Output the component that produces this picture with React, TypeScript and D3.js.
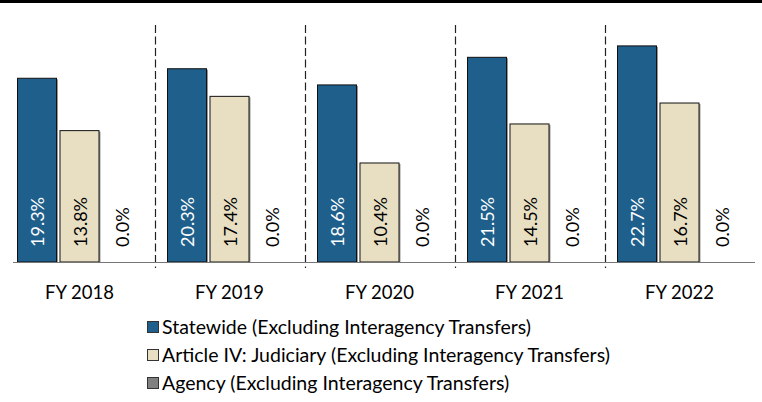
import React from "react";
import * as d3 from "d3";

const categories = ["FY 2018", "FY 2019", "FY 2020", "FY 2021", "FY 2022"];
const seriesNames = [
  "Statewide (Excluding Interagency Transfers)",
  "Article IV: Judiciary (Excluding Interagency Transfers)",
  "Agency (Excluding Interagency Transfers)",
];
const statewide = [19.3, 20.3, 18.6, 21.5, 22.7];
const judiciary = [13.8, 17.4, 10.4, 14.5, 16.7];
const agency = [0.0, 0.0, 0.0, 0.0, 0.0];
const seriesColors = ["#1F5F8B", "#E8DFC3", "#808080"];
const labelColors = ["#FFFFFF", "#000000", "#000000"];

const W = 762;
const H = 402;
const FONT = "Lato, 'Open Sans', sans-serif";

export default function App() {
  const seriesValues = [statewide, judiciary, agency];
  const x = d3.scaleBand<string>().domain(categories).range([4.5, 754.5]).padding(0);
  const xs = d3
    .scaleBand<number>()
    .domain([0, 1, 2])
    .range([0, x.bandwidth()])
    .paddingInner(0.082)
    .paddingOuter(0.306);
  const y = d3.scaleLinear().domain([0, 25]).range([262, 24]);
  const y0 = y(0);

  const dividers = categories.slice(1).map((c) => x(c)!);

  return (
    <svg
      width={W}
      height={H}
      style={{ position: "absolute", left: 0, top: 0, background: "#fff" }}
      fontFamily={FONT}
    >
      <rect x={0} y={0} width={W} height={3} fill="#000" />
      {dividers.map((dx, i) => (
        <line
          key={i}
          x1={Math.round(dx) + 0.5}
          x2={Math.round(dx) + 0.5}
          y1={25}
          y2={268}
          stroke="#222"
          strokeWidth={1.2}
          strokeDasharray="8,3.5"
        />
      ))}
      {categories.map((c, ci) => (
        <g key={c}>
          {seriesValues.map((vals, si) => {
            const bx = x(c)! + xs(si)!;
            const bw = xs.bandwidth();
            const v = vals[ci];
            const top = y(v);
            return (
              <g key={si}>
                {v > 0 && (
                  <>
                    <rect x={bx + 1.5} y={top + 1} width={bw} height={y0 - top - 1} fill="#9a9a9a" />
                    <rect
                      x={bx}
                      y={top}
                      width={bw}
                      height={y0 - top}
                      fill={seriesColors[si]}
                      stroke="#111"
                      strokeWidth={1}
                    />
                  </>
                )}
                <text
                  transform={`translate(${bx + bw / 2},${y0 - 15}) rotate(-90)`}
                  dominantBaseline="central"
                  textAnchor="start"
                  fontSize={18}
                  fill={labelColors[si]}
                >
                  {v.toFixed(1) + "%"}
                </text>
              </g>
            );
          })}
          <text
            x={x(c)! + x.bandwidth() / 2}
            y={299}
            textAnchor="middle"
            fontSize={18.5}
            fill="#000"
          >
            {c}
          </text>
        </g>
      ))}
      <line x1={13} x2={755} y1={y0 + 0.5} y2={y0 + 0.5} stroke="#767676" strokeWidth={1.2} />
      {seriesNames.map((name, i) => (
        <g key={name} transform={`translate(147,${321 + i * 28})`}>
          <rect x={0.5} y={0.5} width={11} height={11} fill={seriesColors[i]} stroke="#333" strokeWidth={1} />
          <text x={15} y={12.5} fontSize={19.5} fill="#000">
            {name}
          </text>
        </g>
      ))}
    </svg>
  );
}
